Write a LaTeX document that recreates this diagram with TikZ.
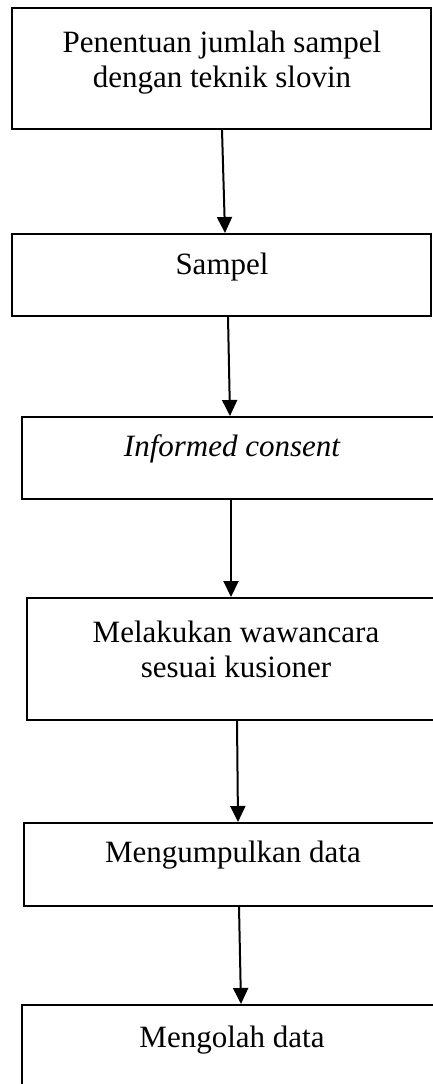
\documentclass[tikz,border=0pt]{standalone}
\usepackage{fontspec}
\setmainfont{Liberation Serif}
\usetikzlibrary{arrows.meta,calc}
\begin{document}
\begin{tikzpicture}[x=1pt,y=-1pt,
  stepbox/.style={draw, line width=2pt, inner sep=0pt},
  lbl/.style={anchor=base, inner sep=0pt, align=center, font=\fontsize{31}{35}\selectfont},
  arr/.style={line width=2pt, -{Triangle[length=16pt,width=15pt]}}]
\fill[white] (0,0) rectangle (432,1084);
\useasboundingbox (0,0) rectangle (432,1084);
\node[stepbox, minimum width=419pt, minimum height=121pt] (b1) at (221.5,68.5) {};
\node[stepbox, minimum width=419pt, minimum height=82pt] (b2) at (221.5,275) {};
\node[stepbox, minimum width=420pt, minimum height=82pt] (b3) at (232,458) {};
\node[stepbox, minimum width=418pt, minimum height=122pt] (b4) at (236,659) {};
\node[stepbox, minimum width=418pt, minimum height=83pt] (b5) at (233,864.5) {};
\node[stepbox, minimum width=420pt, minimum height=95pt] (b6) at (232,1052.5) {};
\node[lbl] (t1) at (222,87) {Penentuan jumlah sampel\\dengan teknik slovin};
\node[lbl] (t2) at (222,274) {Sampel};
\node[lbl] (t3) at (232,456) {\itshape Informed consent};
\node[lbl] (t4) at (236,677) {Melakukan wawancara\\sesuai kusioner};
\node[lbl] (t5) at (233,862) {Mengumpulkan data};
\node[lbl] (t6) at (232,1047) {Mengolah data};
\draw[arr] ($(b1.south west)+(211,0)$) -- ($(b2.north west)+(214,0)$);
\draw[arr] ($(b2.south west)+(217,0)$) -- ($(b3.north west)+(209,0)$);
\draw[arr] ($(b3.south west)+(210,0)$) -- ($(b4.north west)+(205,0)$);
\draw[arr] ($(b4.south west)+(211,0)$) -- ($(b5.north west)+(215,0)$);
\draw[arr] ($(b5.south west)+(216,0)$) -- ($(b6.north west)+(220,0)$);
\end{tikzpicture}
\end{document}
